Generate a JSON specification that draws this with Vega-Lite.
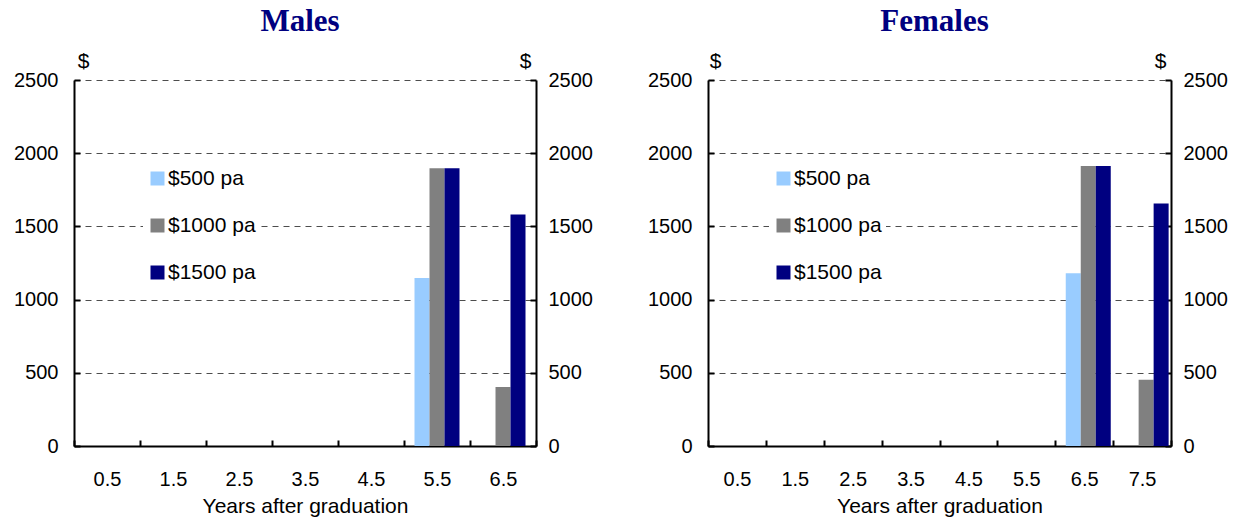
{
  "$schema": "https://vega.github.io/schema/vega-lite/v6.json",
  "background": "white",
  "padding": {"left": 13, "top": 6, "right": 5, "bottom": 5},
  "spacing": 54,
  "config": {
    "view": {"stroke": null},
    "font": "Liberation Sans",
    "title": {"font": "Liberation Serif", "fontSize": 31, "fontWeight": "bold", "color": "#000080", "anchor": "middle", "offset": 12, "dx": -5},
    "axis": {"labelFont": "Liberation Sans", "labelFontSize": 20, "labelColor": "black", "titleFont": "Liberation Sans", "titleFontSize": 21, "titleFontWeight": "normal", "titleColor": "black", "domainColor": "black", "domainWidth": 2, "tickColor": "black", "tickWidth": 2},
    "legend": {"labelFont": "Liberation Sans", "labelFontSize": 21, "labelColor": "black"}
  },
  "data": {"values": [
    {"panel": "Males", "year": "0.5", "series": "$500 pa", "value": 0},
    {"panel": "Males", "year": "0.5", "series": "$1000 pa", "value": 0},
    {"panel": "Males", "year": "0.5", "series": "$1500 pa", "value": 0},
    {"panel": "Males", "year": "1.5", "series": "$500 pa", "value": 0},
    {"panel": "Males", "year": "1.5", "series": "$1000 pa", "value": 0},
    {"panel": "Males", "year": "1.5", "series": "$1500 pa", "value": 0},
    {"panel": "Males", "year": "2.5", "series": "$500 pa", "value": 0},
    {"panel": "Males", "year": "2.5", "series": "$1000 pa", "value": 0},
    {"panel": "Males", "year": "2.5", "series": "$1500 pa", "value": 0},
    {"panel": "Males", "year": "3.5", "series": "$500 pa", "value": 0},
    {"panel": "Males", "year": "3.5", "series": "$1000 pa", "value": 0},
    {"panel": "Males", "year": "3.5", "series": "$1500 pa", "value": 0},
    {"panel": "Males", "year": "4.5", "series": "$500 pa", "value": 0},
    {"panel": "Males", "year": "4.5", "series": "$1000 pa", "value": 0},
    {"panel": "Males", "year": "4.5", "series": "$1500 pa", "value": 0},
    {"panel": "Males", "year": "5.5", "series": "$500 pa", "value": 1148},
    {"panel": "Males", "year": "5.5", "series": "$1000 pa", "value": 1897},
    {"panel": "Males", "year": "5.5", "series": "$1500 pa", "value": 1897},
    {"panel": "Males", "year": "6.5", "series": "$500 pa", "value": 0},
    {"panel": "Males", "year": "6.5", "series": "$1000 pa", "value": 403},
    {"panel": "Males", "year": "6.5", "series": "$1500 pa", "value": 1582},
    {"panel": "Females", "year": "0.5", "series": "$500 pa", "value": 0},
    {"panel": "Females", "year": "0.5", "series": "$1000 pa", "value": 0},
    {"panel": "Females", "year": "0.5", "series": "$1500 pa", "value": 0},
    {"panel": "Females", "year": "1.5", "series": "$500 pa", "value": 0},
    {"panel": "Females", "year": "1.5", "series": "$1000 pa", "value": 0},
    {"panel": "Females", "year": "1.5", "series": "$1500 pa", "value": 0},
    {"panel": "Females", "year": "2.5", "series": "$500 pa", "value": 0},
    {"panel": "Females", "year": "2.5", "series": "$1000 pa", "value": 0},
    {"panel": "Females", "year": "2.5", "series": "$1500 pa", "value": 0},
    {"panel": "Females", "year": "3.5", "series": "$500 pa", "value": 0},
    {"panel": "Females", "year": "3.5", "series": "$1000 pa", "value": 0},
    {"panel": "Females", "year": "3.5", "series": "$1500 pa", "value": 0},
    {"panel": "Females", "year": "4.5", "series": "$500 pa", "value": 0},
    {"panel": "Females", "year": "4.5", "series": "$1000 pa", "value": 0},
    {"panel": "Females", "year": "4.5", "series": "$1500 pa", "value": 0},
    {"panel": "Females", "year": "5.5", "series": "$500 pa", "value": 0},
    {"panel": "Females", "year": "5.5", "series": "$1000 pa", "value": 0},
    {"panel": "Females", "year": "5.5", "series": "$1500 pa", "value": 0},
    {"panel": "Females", "year": "6.5", "series": "$500 pa", "value": 1180},
    {"panel": "Females", "year": "6.5", "series": "$1000 pa", "value": 1912},
    {"panel": "Females", "year": "6.5", "series": "$1500 pa", "value": 1912},
    {"panel": "Females", "year": "7.5", "series": "$500 pa", "value": 0},
    {"panel": "Females", "year": "7.5", "series": "$1000 pa", "value": 452},
    {"panel": "Females", "year": "7.5", "series": "$1500 pa", "value": 1657}
  ]},
  "hconcat": [
    {
      "title": "Males",
      "width": 462,
      "height": 366,
      "transform": [{"filter": "datum.panel === 'Males'"}],
      "layer": [
        {
          "mark": {"type": "bar"},
          "encoding": {
            "x": {"field": "year", "type": "nominal", "sort": null,
                  "scale": {"paddingInner": 0, "paddingOuter": 0},
                  "axis": {"title": "Years after graduation", "labelAngle": 0, "tickBand": "extent", "tickSize": -6, "labelPadding": 29, "titlePadding": 6, "grid": false}},
            "xOffset": {"field": "series", "type": "nominal", "sort": ["$500 pa", "$1000 pa", "$1500 pa"],
                        "scale": {"paddingInner": 0, "paddingOuter": 0.7}},
            "y": {"field": "value", "type": "quantitative", "stack": null,
                  "scale": {"domain": [0, 2500], "nice": false},
                  "axis": {"orient": "left", "values": [0, 500, 1000, 1500, 2000, 2500], "format": "d", "tickSize": -6, "labelPadding": 22,
                           "grid": true, "gridColor": "#4d4d4d", "gridDash": [6, 5], "gridWidth": 1,
                           "title": "$", "titleAngle": 0, "titleAlign": "center", "titleBaseline": "alphabetic", "titleX": 9, "titleY": -13}},
            "color": {"field": "series", "type": "nominal", "sort": ["$500 pa", "$1000 pa", "$1500 pa"],
                      "scale": {"domain": ["$500 pa", "$1000 pa", "$1500 pa"], "range": ["#99CCFF", "#808080", "#000080"]},
                      "legend": {"title": null, "orient": "none", "legendX": 69, "legendY": 84, "symbolType": "square", "symbolSize": 196, "symbolStrokeWidth": 0, "rowPadding": 25, "labelOffset": 0, "fillColor": "white", "padding": 4}}
          }
        },
        {
          "mark": {"type": "point", "opacity": 0},
          "encoding": {
            "x": {"field": "year", "type": "nominal", "sort": null},
            "y": {"field": "value", "type": "quantitative", "stack": null,
                  "axis": {"orient": "right", "values": [0, 500, 1000, 1500, 2000, 2500], "format": "d", "tickSize": -6, "labelPadding": 18, "grid": false,
                           "title": "$", "titleAngle": 0, "titleAlign": "center", "titleBaseline": "alphabetic", "titleX": -11, "titleY": -13}}
          }
        }
      ],
      "resolve": {"axis": {"y": "independent"}}
    },
    {
      "title": "Females",
      "width": 463,
      "height": 366,
      "transform": [{"filter": "datum.panel === 'Females'"}],
      "layer": [
        {
          "mark": {"type": "bar"},
          "encoding": {
            "x": {"field": "year", "type": "nominal", "sort": null,
                  "scale": {"paddingInner": 0, "paddingOuter": 0},
                  "axis": {"title": "Years after graduation", "labelAngle": 0, "tickBand": "extent", "tickSize": -6, "labelPadding": 29, "titlePadding": 6, "grid": false}},
            "xOffset": {"field": "series", "type": "nominal", "sort": ["$500 pa", "$1000 pa", "$1500 pa"],
                        "scale": {"paddingInner": 0, "paddingOuter": 0.7}},
            "y": {"field": "value", "type": "quantitative", "stack": null,
                  "scale": {"domain": [0, 2500], "nice": false},
                  "axis": {"orient": "left", "values": [0, 500, 1000, 1500, 2000, 2500], "format": "d", "tickSize": -6, "labelPadding": 22,
                           "grid": true, "gridColor": "#4d4d4d", "gridDash": [6, 5], "gridWidth": 1,
                           "title": "$", "titleAngle": 0, "titleAlign": "center", "titleBaseline": "alphabetic", "titleX": 7, "titleY": -13}},
            "color": {"field": "series", "type": "nominal", "sort": ["$500 pa", "$1000 pa", "$1500 pa"],
                      "scale": {"domain": ["$500 pa", "$1000 pa", "$1500 pa"], "range": ["#99CCFF", "#808080", "#000080"]},
                      "legend": {"title": null, "orient": "none", "legendX": 61, "legendY": 84, "symbolType": "square", "symbolSize": 196, "symbolStrokeWidth": 0, "rowPadding": 25, "labelOffset": 0, "fillColor": "white", "padding": 4}}
          }
        },
        {
          "mark": {"type": "point", "opacity": 0},
          "encoding": {
            "x": {"field": "year", "type": "nominal", "sort": null},
            "y": {"field": "value", "type": "quantitative", "stack": null,
                  "axis": {"orient": "right", "values": [0, 500, 1000, 1500, 2000, 2500], "format": "d", "tickSize": -6, "labelPadding": 18, "grid": false,
                           "title": "$", "titleAngle": 0, "titleAlign": "center", "titleBaseline": "alphabetic", "titleX": -11, "titleY": -13}}
          }
        }
      ],
      "resolve": {"axis": {"y": "independent"}}
    }
  ],
  "resolve": {"scale": {"color": "independent"}, "legend": {"color": "independent"}}
}
